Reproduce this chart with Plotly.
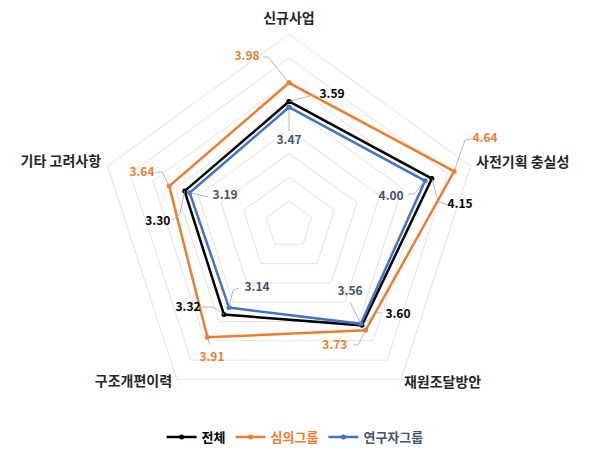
import plotly.graph_objects as go

# ---------------- data ----------------
categories = ["신규사업", "사전기획 충실성", "재원조달방안", "구조개편이력", "기타 고려사항"]
axis_angles = [0, 72, 144, 216, 288]   # clockwise from top, matching the category order

series_names = ["전체", "심의그룹", "연구자그룹"]
total = [3.59, 4.15, 3.60, 3.32, 3.30]
review = [3.98, 4.64, 3.73, 3.91, 3.64]
research = [3.47, 4.00, 3.56, 3.14, 3.19]

# category-label anchor (polar r, theta) and text side
category_label_pos = [(5.17, 0.0), (5.13, 71.7), (5.10, 144.0), (5.12, 216.5), (5.15, 288.3)]
category_label_side = ["top center", "middle right", "middle right", "middle left", "middle left"]

# data-label placement (polar r, theta) and leader-line bend points
total_label_pos = [(3.87, 18.3), (4.61, 83.3), (3.96, 129.5), (3.74, 230.6), (3.75, 271.3)]
total_leader = [[(3.77, 10.5)], [(4.16, 80.8), (4.34, 82.8)], [(3.59, 135.3), (3.68, 133.4)],
                [(3.34, 222.8), (3.51, 226.7)], [(3.30, 275.8), (3.45, 272.4)]]
review_label_pos = [(4.63, 346.0), (5.49, 66.3), (3.71, 159.2), (4.22, 210.1), (4.27, 289.5)]
review_leader = [[(4.55, 352.9), (4.56, 351.2)], [(5.10, 64.2), (5.24, 64.8)],
                 [(3.90, 150.1), (3.85, 151.9)], [(4.01, 213.4)], [(3.88, 292.7), (4.00, 291.7)]]
research_label_pos = [(2.76, 0.0), (3.22, 74.7), (2.90, 137.7), (2.48, 206.9), (2.47, 294.4)]
research_leader = [[(2.97, 0.0)], [(3.70, 76.1), (3.58, 75.4)], [(3.06, 141.6)],
                   [(2.80, 220.7), (2.69, 218.4)], [(2.80, 289.1)]]

# ---------------- style ----------------
line_colors = ["#000000", "#ED7D31", "#4472C4"]
label_colors = ["#000000", "#ED7D31", "#44546A"]
label_weights = [700, 600, 600]
FONT = "Noto Sans CJK KR"

# layout geometry (pixels): chart centre and pixels per unit
W, H = 606, 470
CX, CY, PPU = 289, 225, 47.7
R_MIN, R_MAX, R_MAX2 = 1, 5, 5.6


def domain(rmax):
    rad = (rmax - R_MIN) * PPU
    return dict(x=[(CX - rad) / W, (CX + rad) / W], y=[1 - (CY + rad) / H, 1 - (CY - rad) / H])


fig = go.Figure()

all_values = [total, review, research]
all_label_pos = [total_label_pos, review_label_pos, research_label_pos]
all_leaders = [total_leader, review_leader, research_leader]

for name, vals, lc, tc in zip(series_names, all_values, line_colors, label_colors):
    fig.add_trace(go.Scatterpolar(
        r=vals + vals[:1], theta=categories + categories[:1],
        mode="lines+markers", name=f'<span style="color:{tc}">{name}</span>',
        line=dict(color=lc, width=2.5), marker=dict(color=lc, size=5),
        subplot="polar",
    ))

for vals, lpos, leads, tc, w in zip(all_values, all_label_pos, all_leaders, label_colors, label_weights):
    lr, lt = [], []
    for v, ang, bends in zip(vals, axis_angles, leads):
        lr += [v] + [b[0] for b in bends] + [None]
        lt += [ang] + [b[1] for b in bends] + [None]
    fig.add_trace(go.Scatterpolar(
        r=lr, theta=lt, mode="lines", showlegend=False, hoverinfo="skip",
        line=dict(color="#A6A6A6", width=0.8), cliponaxis=False, connectgaps=False,
        subplot="polar2",
    ))
    fig.add_trace(go.Scatterpolar(
        r=[p[0] for p in lpos], theta=[p[1] for p in lpos], mode="text",
        text=[f"{v:.2f}" for v in vals], textposition="middle center",
        textfont=dict(family=FONT, size=12, color=tc, weight=w),
        showlegend=False, hoverinfo="skip", cliponaxis=False,
        subplot="polar2",
    ))

# category labels
fig.add_trace(go.Scatterpolar(
    r=[p[0] for p in category_label_pos], theta=[p[1] for p in category_label_pos],
    mode="text", text=categories, textposition=category_label_side,
    textfont=dict(family=FONT, size=14, color="#262626", weight=600),
    showlegend=False, hoverinfo="skip", cliponaxis=False, subplot="polar2",
))

fig.update_layout(
    width=W, height=H,
    margin=dict(l=0, r=0, t=0, b=0),
    paper_bgcolor="white", plot_bgcolor="white",
    font=dict(family=FONT, size=13, color="#262626"),
    polar=dict(
        domain=domain(R_MAX),
        bgcolor="white",
        gridshape="linear",
        radialaxis=dict(range=[R_MIN, R_MAX], dtick=0.5, tick0=1, showticklabels=False, ticks="",
                        showline=False, gridcolor="#E3E3E3", gridwidth=1),
        angularaxis=dict(type="category", rotation=90, direction="clockwise",
                         showgrid=False, ticks="", showticklabels=False,
                         linecolor="#E3E3E3", linewidth=1),
    ),
    polar2=dict(
        domain=domain(R_MAX2),
        bgcolor="rgba(0,0,0,0)",
        radialaxis=dict(range=[R_MIN, R_MAX2], visible=False),
        angularaxis=dict(rotation=90, direction="clockwise", visible=False),
    ),
    legend=dict(orientation="h", x=0.487, xanchor="center", y=0.07, yanchor="middle",
                font=dict(family=FONT, size=13, color="#262626", weight=600),
                itemwidth=30, bgcolor="rgba(0,0,0,0)"),
    showlegend=True,
)

fig.write_html("out.html")
